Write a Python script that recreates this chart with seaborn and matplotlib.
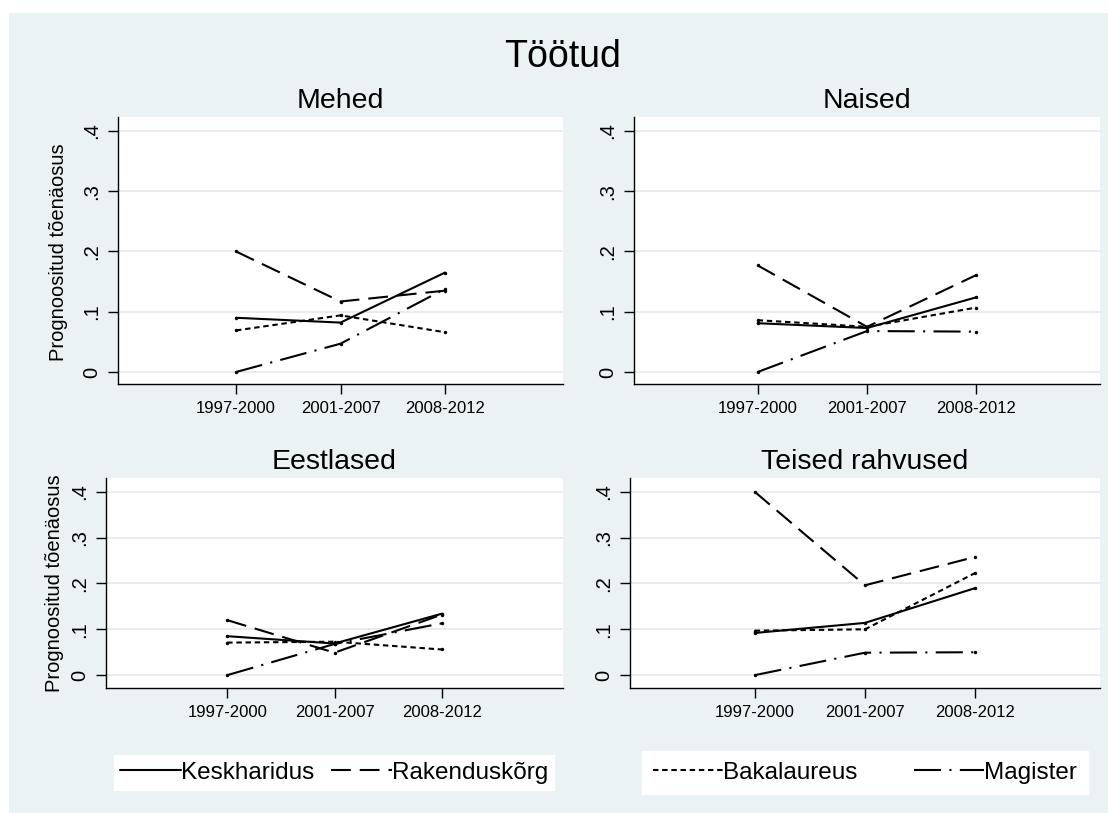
import numpy as np
import pandas as pd
import matplotlib
matplotlib.use("Agg")
import matplotlib.pyplot as plt
import seaborn as sns
from matplotlib.lines import Line2D
from matplotlib.patches import Rectangle

sns.set_style("white")
plt.rcParams['font.family'] = ['Liberation Sans', 'DejaVu Sans']
plt.rcParams['text.color'] = 'black'
plt.rcParams['xtick.color'] = 'black'
plt.rcParams['ytick.color'] = 'black'
plt.rcParams['axes.labelcolor'] = 'black'

# andmed (loetud pildilt)
periods = ['1997-2000', '2001-2007', '2008-2012']
educ = ['Keskharidus', 'Rakenduskõrg', 'Bakalaureus', 'Magister']

mehed_kesk = [0.090, 0.082, 0.165]
mehed_rak = [0.200, 0.117, 0.135]
mehed_bak = [0.069, 0.094, 0.066]
mehed_mag = [0.000, 0.047, 0.138]

naised_kesk = [0.081, 0.073, 0.124]
naised_rak = [0.177, 0.075, 0.161]
naised_bak = [0.086, 0.075, 0.107]
naised_mag = [0.000, 0.068, 0.067]

eesti_kesk = [0.085, 0.069, 0.134]
eesti_rak = [0.120, 0.049, 0.132]
eesti_bak = [0.071, 0.073, 0.056]
eesti_mag = [0.000, 0.068, 0.113]

teised_kesk = [0.092, 0.114, 0.190]
teised_rak = [0.400, 0.196, 0.258]
teised_bak = [0.097, 0.100, 0.223]
teised_mag = [0.000, 0.049, 0.050]

yticks = [0, 0.1, 0.2, 0.3, 0.4]
ytick_labels = ['0', '.1', '.2', '.3', '.4']

panels = [
    ('Mehed', [mehed_kesk, mehed_rak, mehed_bak, mehed_mag]),
    ('Naised', [naised_kesk, naised_rak, naised_bak, naised_mag]),
    ('Eestlased', [eesti_kesk, eesti_rak, eesti_bak, eesti_mag]),
    ('Teised rahvused', [teised_kesk, teised_rak, teised_bak, teised_mag]),
]

# joonestiilid (Stata mono)
dash_map = {
    'Keskharidus': '',
    'Rakenduskõrg': (9.5, 4.3),
    'Bakalaureus': (2.6, 1.8),
    'Magister': (13, 4, 1, 4),
}

W, H = 1108, 813
BG = '#eaf2f3'
fig = plt.figure(figsize=(W / 100, H / 100), dpi=100, facecolor='white')
fig.patches.append(Rectangle((9 / W, 0), 1 - 9 / W, 1 - 13 / H, transform=fig.transFigure,
                             facecolor=BG, edgecolor='none', zorder=-10))


def px_axes(x0, y0, x1, y1):
    return fig.add_axes([x0 / W, 1 - y1 / H, (x1 - x0) / W, (y1 - y0) / H])


boxes = [(118, 117, 563, 384), (634, 117, 1100, 384),
         (106, 478, 563, 688), (630, 478, 1100, 688)]
ylims = [(-0.0199, 0.4232), (-0.0199, 0.4232), (-0.028, 0.430), (-0.028, 0.430)]
title_pos = [(340.5, 108.3), (867, 108.3), (334.5, 469.3), (865, 469.3)]
ylabel_pos = [(59, 252), None, (55, 583), None]

for i, (title, series) in enumerate(panels):
    rows = []
    for name, vals in zip(educ, series):
        for p, v in zip(periods, vals):
            rows.append({'periood': p, 'haridus': name, 'toenaosus': v})
    df = pd.DataFrame(rows)
    df['periood'] = pd.Categorical(df['periood'], categories=periods, ordered=True)

    ax = px_axes(*boxes[i])
    ax.set_facecolor('white')
    for y in yticks:
        ax.axhline(y, color='#e3e9ea', lw=1.2, zorder=0)
    sns.lineplot(data=df, x='periood', y='toenaosus', style='haridus', style_order=educ,
                 dashes=dash_map, color='black', lw=1.5, marker='o', markersize=2.5,
                 markeredgewidth=0, legend=False, sort=False, ax=ax)
    ax.set_xticks(range(len(periods)))
    ax.set_xticklabels(periods, fontsize=12)
    ax.set_xlim(-1.13, 3.13)
    ax.set_ylim(*ylims[i])
    ax.set_yticks(yticks)
    ax.set_yticklabels(ytick_labels, fontsize=14.5, rotation=90, va='center')
    ax.set_xlabel('')
    ax.set_ylabel('')
    ax.grid(False)
    for s in ['top', 'right']:
        ax.spines[s].set_visible(False)
    for s in ['left', 'bottom']:
        ax.spines[s].set_color('black')
        ax.spines[s].set_linewidth(1.0)
    ax.tick_params(axis='both', direction='out', length=7, width=1.0, color='black',
                   labelcolor='black', left=True, bottom=True, pad=5)
    tx, ty = title_pos[i]
    fig.text(tx / W, 1 - ty / H, title, ha='center', va='baseline', fontsize=20.5,
             color='black')
    if ylabel_pos[i]:
        lx, ly = ylabel_pos[i]
        fig.text(lx / W, 1 - ly / H, 'Prognoositud tõenäosus', rotation=90,
                 ha='center', va='center', fontsize=14.5, color='black')

fig.text(563 / W, 1 - 67.3 / H, 'Töötud', ha='center', va='baseline', fontsize=27,
         color='black')

handles = []
for name in educ:
    h = Line2D([], [], color='black', lw=1.5)
    if dash_map[name]:
        h.set_dashes(dash_map[name])
    handles.append(h)

leg_kw = dict(loc='center', ncol=2, fontsize=17.5, handletextpad=0, frameon=True,
              fancybox=False, edgecolor='white', facecolor='white', framealpha=1,
              borderaxespad=0, labelcolor='black')
fig.legend(handles[:2], educ[:2], bbox_to_anchor=(334 / W, 1 - 772.5 / H),
           handlelength=2.5, columnspacing=0.7, borderpad=0.25, **leg_kw)
fig.legend(handles[2:], educ[2:], bbox_to_anchor=(865 / W, 1 - 772.5 / H),
           handlelength=2.9, columnspacing=2.3, borderpad=0.45, **leg_kw)

fig.savefig('out.png', dpi=100, facecolor=fig.get_facecolor())
